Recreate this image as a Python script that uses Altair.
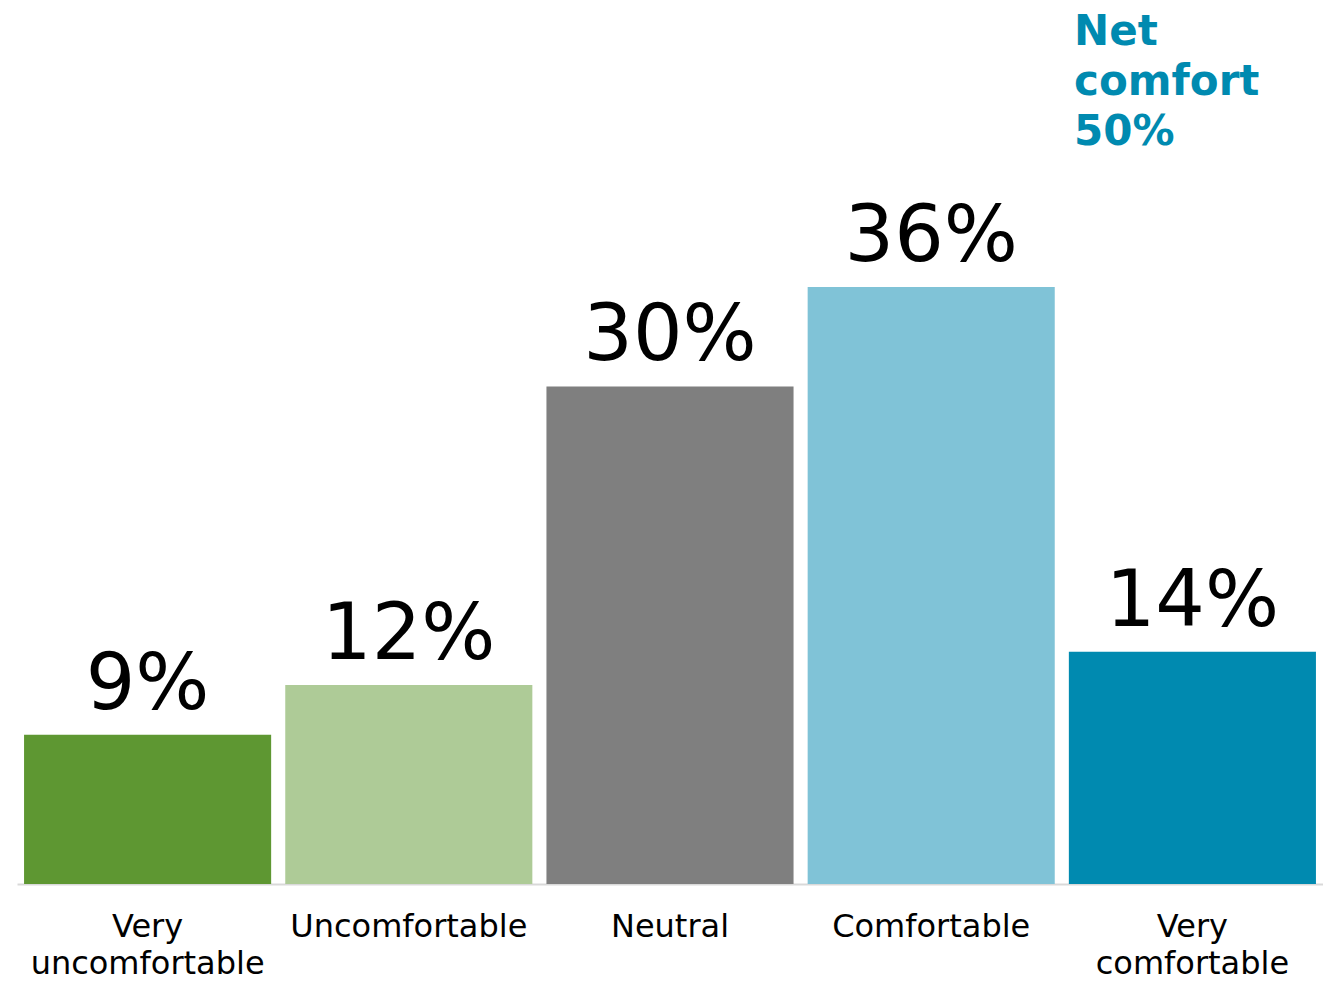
import altair as alt
import pandas as pd

categories = ["Very uncomfortable", "Uncomfortable", "Neutral", "Comfortable", "Very comfortable"]
values = [9, 12, 30, 36, 14]
colors = ["#5E9732", "#AECB97", "#7F7F7F", "#80C3D7", "#008AB0"]
note_lines = ["Net", "comfort", "50%"]

df = pd.DataFrame({"category": categories, "value": values})

x = alt.X("category:N", sort=categories, title=None,
          scale=alt.Scale(paddingInner=0.054, paddingOuter=0.027),
          axis=alt.Axis(labelAngle=0, labelFont="DejaVu Sans", labelFontSize=32,
                        labelColor="#000000", labelBaseline="top", labelPadding=27,
                        labelLineHeight=37, labelLimit=0, ticks=False, domainColor="#D9D9D9",
                        domainWidth=2,
                        labelExpr="indexof(datum.label,'Very')==0 ? split(datum.label,' ') : datum.label"))
y = alt.Y("value:Q", scale=alt.Scale(domain=[0, 53.3]), axis=None)

base = alt.Chart(df).encode(x=x, y=y)

bars = base.mark_bar().encode(
    color=alt.Color("category:N", scale=alt.Scale(domain=categories, range=colors), legend=None)
)

labels = base.transform_calculate(label="datum.value + '%'").mark_text(
    font="DejaVu Sans", fontSize=78, dy=-26, baseline="alphabetic", color="#000000"
).encode(text="label:N")

note = alt.Chart(pd.DataFrame({"t": [note_lines]})).mark_text(
    font="DejaVu Sans", fontSize=42, fontWeight="bold", color="#008AB0",
    align="left", baseline="alphabetic", lineHeight=50
).encode(x=alt.value(1057), y=alt.value(45), text="t")

chart = alt.layer(bars, labels, note).properties(
    width=1306, height=884,
    autosize=alt.AutoSizeParams(type="none"),
    padding={"left": 17, "top": 0, "right": 0, "bottom": 98},
).configure_view(stroke=None)

chart.save("out.html", embed_options={"renderer": "svg", "actions": False})
